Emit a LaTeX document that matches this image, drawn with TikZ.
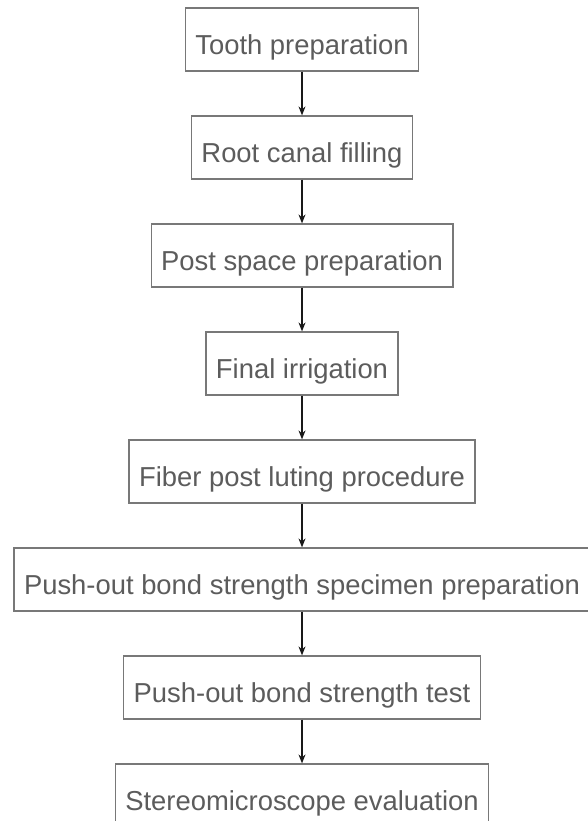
\documentclass[tikz,border=0pt]{standalone}
\usepackage{fontspec}
\setmainfont{Liberation Sans}
\usetikzlibrary{positioning,arrows.meta}
\newlength{\du}
\setlength{\du}{1pt}
\definecolor{dialinecolor}{rgb}{0.470588, 0.470588, 0.470588}
\definecolor{dialinetext}{rgb}{0.360784, 0.360784, 0.360784}
\definecolor{dialinearrow}{rgb}{0.100000, 0.100000, 0.100000}
\tikzset{
  stepbox/.style={draw=dialinecolor, line width=1.2\du, fill=white,
    text=dialinetext, font=\fontsize{27.4}{32}\selectfont,
    minimum height=63\du, inner xsep=10\du, inner ysep=0\du,
    text height=32\du, text depth=2\du},
  flow/.style={draw=dialinearrow, line width=1.1\du,
    -{Stealth[length=9pt, width=7pt]}}
}

\begin{document}
\begin{tikzpicture}[node distance=43.8\du]
\useasboundingbox (0\du,0\du) rectangle (588\du,-821\du);
\node[stepbox] (tooth) at (302\du,-39.5\du) {Tooth preparation};
\node[stepbox, below=of tooth] (canal) {Root canal filling};
\node[stepbox, below=of canal] (space) {Post space preparation};
\node[stepbox, below=of space] (irrig) {Final irrigation};
\node[stepbox, below=of irrig] (luting) {Fiber post luting procedure};
\node[stepbox, below=of luting] (specimen) {Push-out bond strength specimen preparation};
\node[stepbox, below=of specimen] (pushout) {Push-out bond strength test};
\node[stepbox, below=of pushout] (stereo) {Stereomicroscope evaluation};
% arrows between the steps
\foreach \a/\b in {tooth/canal, canal/space, space/irrig, irrig/luting,
                   luting/specimen, specimen/pushout, pushout/stereo}
  \draw[flow] (\a) -- (\b);
\end{tikzpicture}
\end{document}
